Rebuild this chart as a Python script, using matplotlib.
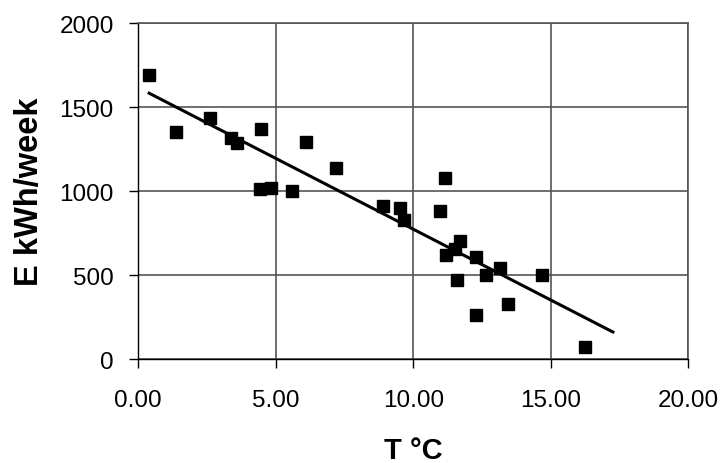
import matplotlib
matplotlib.use("Agg")
import matplotlib.pyplot as plt

# Weekly energy use vs outdoor temperature
temp_c = [0.40, 1.38, 2.61, 3.36, 3.61, 4.47, 4.43, 4.84, 5.60, 6.10, 7.18,
          8.91, 9.51, 9.66, 10.99, 11.16, 11.21, 11.51, 11.69, 11.61, 12.30,
          12.27, 12.64, 13.17, 13.46, 14.68, 16.26]
energy_kwh = [1692, 1351, 1438, 1319, 1286, 1371, 1010, 1018, 998, 1292, 1139,
              911, 899, 825, 879, 1079, 617, 657, 704, 472, 605,
              264, 498, 542, 329, 498, 69]

# trend line end points
trend_x = [0.40, 17.26]
trend_y = [1583, 161]

x_ticks = [0, 5, 10, 15, 20]
x_labels = ["0.00", "5.00", "10.00", "15.00", "20.00"]
y_ticks = [0, 500, 1000, 1500, 2000]

plt.rcParams["font.family"] = ["Liberation Sans", "DejaVu Sans"]

fig = plt.figure(figsize=(7.23, 4.64), dpi=100)
ax = fig.add_axes([0.191, 0.224, 0.761, 0.724])

ax.plot(trend_x, trend_y, color="black", lw=2.2, zorder=3)
ax.plot(temp_c, energy_kwh, ls="none", marker="s", ms=8.5, color="black", zorder=4)

ax.set_xlim(0, 20)
ax.set_ylim(0, 2000)
ax.set_xticks(x_ticks)
ax.set_xticklabels(x_labels)
ax.set_yticks(y_ticks)
ax.grid(True, color="#555555", lw=1.2)
ax.set_axisbelow(True)

for side in ["top", "right"]:
    ax.spines[side].set_color("#555555")
    ax.spines[side].set_linewidth(1.2)
for side in ["left", "bottom"]:
    ax.spines[side].set_color("black")
    ax.spines[side].set_linewidth(1.0)

ax.tick_params(axis="both", labelsize=17.5, length=6.5, width=1.0, colors="black")
ax.tick_params(axis="x", pad=15)
ax.tick_params(axis="y", pad=11)

ax.set_xlabel("T °C", fontsize=21, fontweight="bold")
ax.set_ylabel("E kWh/week", fontsize=23.5, fontweight="bold")
ax.xaxis.set_label_coords(0.5, -0.229)
ax.yaxis.set_label_coords(-0.169, 0.5)

fig.savefig("out.png", dpi=100)
